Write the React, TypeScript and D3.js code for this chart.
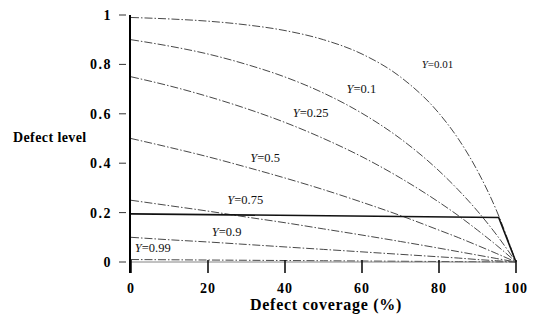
import React, { useEffect, useRef } from 'react';
import * as d3 from 'd3';

// defect coverage (%) where the curves were read
const coverage = [0, 10, 20, 30, 40, 50, 60, 70, 80, 85, 90, 95, 100];

// defect level
const levelY001 = [0.99, 0.984, 0.975, 0.96, 0.937, 0.9, 0.842, 0.749, 0.602, 0.499, 0.369, 0.206, 0];
const levelY01 = [0.9, 0.874, 0.842, 0.8, 0.749, 0.684, 0.602, 0.499, 0.369, 0.292, 0.206, 0.109, 0];
const levelY025 = [0.75, 0.713, 0.67, 0.621, 0.565, 0.5, 0.426, 0.34, 0.242, 0.188, 0.129, 0.067, 0];
const levelY05 = [0.5, 0.464, 0.426, 0.384, 0.34, 0.293, 0.242, 0.188, 0.129, 0.099, 0.067, 0.034, 0];
const levelY075 = [0.25, 0.228, 0.206, 0.182, 0.159, 0.134, 0.109, 0.083, 0.056, 0.042, 0.028, 0.014, 0];
const levelY09 = [0.1, 0.09, 0.081, 0.071, 0.061, 0.051, 0.041, 0.031, 0.021, 0.016, 0.01, 0.005, 0];
const levelY099 = [0.01, 0.009, 0.008, 0.007, 0.006, 0.005, 0.004, 0.003, 0.002, 0.0015, 0.001, 0.0005, 0];

const yieldNames = ['0.01', '0.1', '0.25', '0.5', '0.75', '0.9', '0.99'];
// where each curve label sits: [coverage, level]
const labelAt = [[75.5, 0.785], [56, 0.684], [42, 0.587], [31, 0.405], [25, 0.235], [21, 0.105], [1, 0.04]];

// the solid 0.2 level line
const limitCoverage = [0, 95.5, 100];
const limitLevel = [0.195, 0.18, 0];

const xTicks = [0, 20, 40, 60, 80, 100];
const yTicks = [0, 0.2, 0.4, 0.6, 0.8, 1];

const App = () => {
    const svgRef = useRef(null);

    useEffect(() => {
        const svg = d3.select(svgRef.current);
        svg.selectAll('*').remove();

        const x = d3.scaleLinear().domain([0, 100]).range([131, 516]);
        const y = d3.scaleLinear().domain([0, 1]).range([262, 15]);
        const font = '"Liberation Serif", "DejaVu Serif", serif';

        const series = [levelY001, levelY01, levelY025, levelY05, levelY075, levelY09, levelY099];

        const line = d3.line()
            .x(d => x(d[0]))
            .y(d => y(d[1]))
            .curve(d3.curveMonotoneX);

        series.forEach(vals => {
            svg.append('path')
                .datum(coverage.map((c, i) => [c, vals[i]]))
                .attr('fill', 'none')
                .attr('stroke', '#333')
                .attr('stroke-width', 0.9)
                .attr('stroke-dasharray', '8,2,1.5,2')
                .attr('d', line);
        });

        svg.append('path')
            .datum(limitCoverage.map((c, i) => [c, limitLevel[i]]))
            .attr('fill', 'none')
            .attr('stroke', '#111')
            .attr('stroke-width', 1.6)
            .attr('d', d3.line().x(d => x(d[0])).y(d => y(d[1])));

        // x axis: faint baseline, ticks hanging below
        svg.append('line')
            .attr('x1', x(0)).attr('x2', x(100))
            .attr('y1', y(0)).attr('y2', y(0))
            .attr('stroke', '#777').attr('stroke-width', 0.9);

        xTicks.forEach(t => {
            svg.append('line')
                .attr('x1', x(t)).attr('x2', x(t))
                .attr('y1', y(0) - 2).attr('y2', y(0) + 11)
                .attr('stroke', '#111').attr('stroke-width', 1.6);
            svg.append('text')
                .attr('x', x(t)).attr('y', 293)
                .attr('text-anchor', 'middle')
                .attr('font-family', font).attr('font-size', 14).attr('font-weight', 'bold')
                .attr('letter-spacing', 1)
                .text(t);
        });

        // y axis
        svg.append('line')
            .attr('x1', x(0) - 1).attr('x2', x(0) - 1)
            .attr('y1', y(1)).attr('y2', y(0) + 11)
            .attr('stroke', '#000').attr('stroke-width', 2);

        yTicks.forEach(t => {
            svg.append('line')
                .attr('x1', 119).attr('x2', 126)
                .attr('y1', y(t)).attr('y2', y(t))
                .attr('stroke', '#333').attr('stroke-width', 1);
            svg.append('text')
                .attr('x', 112).attr('y', y(t) + 5)
                .attr('text-anchor', 'end')
                .attr('font-family', font).attr('font-size', 14).attr('font-weight', 'bold')
                .attr('letter-spacing', 1.5)
                .text(t);
        });

        svg.append('text')
            .attr('x', 13).attr('y', 142)
            .attr('font-family', font).attr('font-size', 14).attr('font-weight', 'bold')
            .attr('letter-spacing', 0.4)
            .text('Defect level');

        svg.append('text')
            .attr('x', 326).attr('y', 310)
            .attr('text-anchor', 'middle')
            .attr('font-family', font).attr('font-size', 16).attr('font-weight', 'bold')
            .attr('letter-spacing', 0.7)
            .text('Defect coverage (%)');

        yieldNames.forEach((name, i) => {
            const t = svg.append('text')
                .attr('x', x(labelAt[i][0])).attr('y', y(labelAt[i][1]))
                .attr('font-family', font).attr('font-size', i === 0 ? 11 : 12.5)
                .attr('fill', '#111');
            t.append('tspan').attr('font-style', 'italic').text('Y');
            t.append('tspan').text('=' + name);
        });
    }, []);

    return (
        <svg ref={svgRef} width={539} height={322}
            style={{ position: 'absolute', left: 0, top: 0, background: '#fff' }} />
    );
};

export default App;
